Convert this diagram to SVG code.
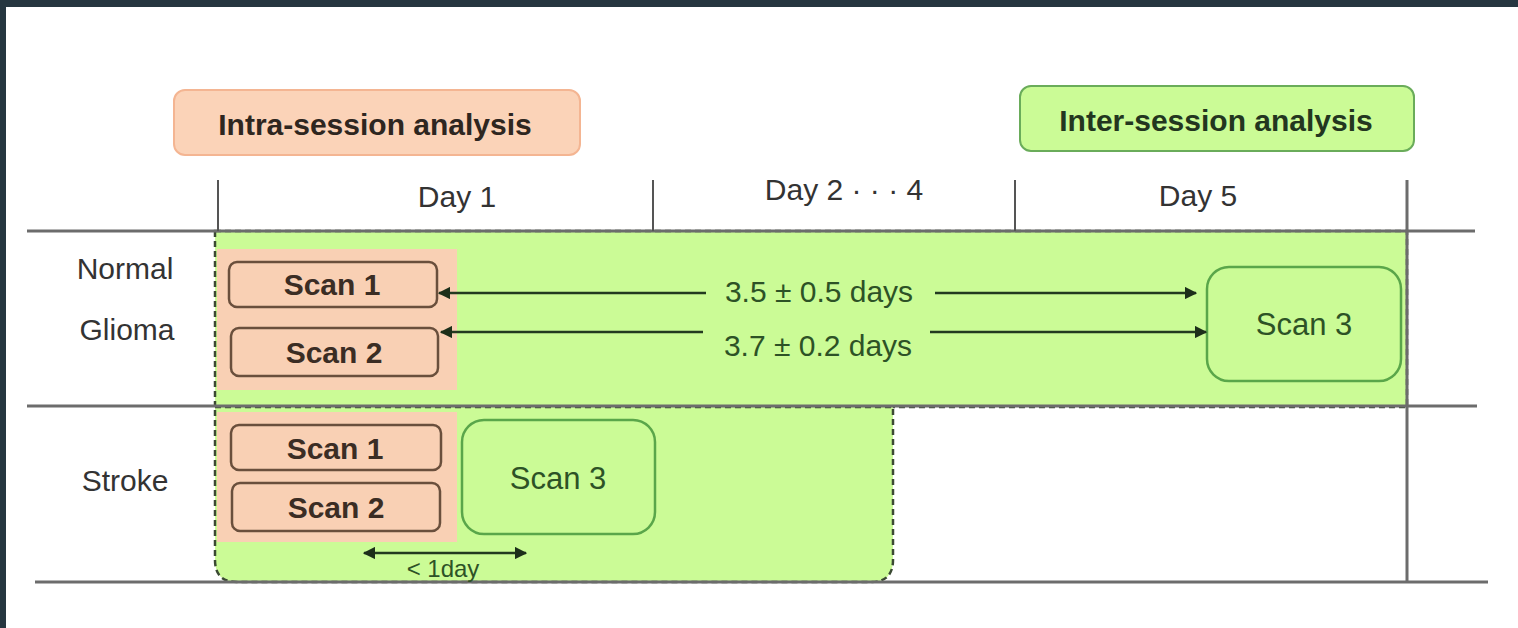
<svg xmlns="http://www.w3.org/2000/svg" width="1518" height="628" viewBox="0 0 1518 628">
<defs>
<style>
.t{font-family:"Liberation Sans",Arial,sans-serif;}
.grid{stroke:#6c6c6c;stroke-width:3;fill:none;}
.tick{stroke:#555;stroke-width:2;fill:none;}
.region{fill:#cbfb96;stroke:#3b4a33;stroke-width:2.5;stroke-dasharray:6 4;}
.peach{fill:#f9d0b4;}
.scanP{fill:#f9d0b4;stroke:#6a4f3c;stroke-width:2.5;}
.scanG{fill:#cbfb96;stroke:#5aa64a;stroke-width:2.5;}
.conn{stroke:#233a20;stroke-width:2.5;fill:none;}
.lbl{font-size:30px;fill:#333;}
.day{font-size:30px;fill:#333;text-anchor:middle;}
.ptxt{font-size:30px;font-weight:bold;fill:#3b2d24;text-anchor:middle;}
.gtxt{font-size:31px;fill:#2d5226;text-anchor:middle;}
.dtxt{font-size:30px;fill:#2d5226;text-anchor:middle;}
</style>
<marker id="ah" viewBox="0 0 10 10" refX="9" refY="5" markerWidth="5" markerHeight="5" orient="auto-start-reverse">
<path d="M0,0 L10,5 L0,10 z" fill="#1d2f1a"/>
</marker>
</defs>
<rect x="0" y="0" width="1518" height="628" fill="#ffffff"/>
<rect x="0" y="0" width="1518" height="7" fill="#263640"/>
<rect x="0" y="0" width="6" height="628" fill="#263640"/>

<g id="header-intra">
<rect x="174" y="90" width="406" height="65" rx="11" fill="#fbd3b8" stroke="#f4b592" stroke-width="2"/>
<text x="375" y="135" class="t" font-size="30" font-weight="bold" fill="#2e2620" text-anchor="middle">Intra-session analysis</text>
</g>
<g id="header-inter">
<rect x="1020" y="86" width="394" height="65" rx="11" fill="#cbfb96" stroke="#6aac5a" stroke-width="2"/>
<text x="1216" y="131" class="t" font-size="30" font-weight="bold" fill="#23361f" text-anchor="middle">Inter-session analysis</text>
</g>

<g id="regions">
<rect class="region" x="215" y="231" width="1192" height="176"/>
<path class="region" d="M215,407 H893 V560 Q893,582 871,582 H237 Q215,582 215,560 Z"/>
<rect class="peach" x="217" y="249" width="240" height="141"/>
<rect class="peach" x="217" y="412" width="240" height="130"/>
</g>

<g id="grid">
<line class="grid" x1="27" y1="231" x2="1475" y2="231"/>
<line class="grid" x1="27" y1="406" x2="1477" y2="406"/>
<line class="grid" x1="35" y1="582" x2="1488" y2="582"/>
<line class="tick" x1="218" y1="180" x2="218" y2="231"/>
<line class="tick" x1="653" y1="180" x2="653" y2="231"/>
<line class="tick" x1="1015" y1="180" x2="1015" y2="231"/>
<line class="grid" x1="1407" y1="180" x2="1407" y2="582"/>
</g>

<g id="day-labels" class="t">
<text x="457" y="207" class="day">Day 1</text>
<text x="844" y="200" class="day">Day 2 · · · 4</text>
<text x="1198" y="206" class="day">Day 5</text>
</g>

<g id="row-labels" class="t">
<text x="125" y="279" class="lbl" text-anchor="middle">Normal</text>
<text x="127" y="340" class="lbl" text-anchor="middle">Glioma</text>
<text x="125" y="491" class="lbl" text-anchor="middle">Stroke</text>
</g>

<g id="scan1-ng">
<rect class="scanP" x="229" y="262" width="208" height="45" rx="8"/>
<text x="332" y="295" class="t ptxt">Scan 1</text>
</g>
<g id="scan2-ng">
<rect class="scanP" x="231" y="328" width="207" height="48" rx="8"/>
<text x="334" y="363" class="t ptxt">Scan 2</text>
</g>
<g id="scan3-ng">
<rect class="scanG" x="1207" y="267" width="194" height="114" rx="22"/>
<text x="1304" y="335" class="t gtxt">Scan 3</text>
</g>
<g id="scan1-s">
<rect class="scanP" x="231" y="425" width="210" height="45" rx="8"/>
<text x="335" y="459" class="t ptxt">Scan 1</text>
</g>
<g id="scan2-s">
<rect class="scanP" x="232" y="483" width="208" height="48" rx="8"/>
<text x="336" y="518" class="t ptxt">Scan 2</text>
</g>
<g id="scan3-s">
<rect class="scanG" x="462" y="420" width="193" height="114" rx="22"/>
<text x="558" y="489" class="t gtxt">Scan 3</text>
</g>

<g id="connectors">
<line class="conn" x1="706" y1="293" x2="439" y2="293" marker-end="url(#ah)"/>
<line class="conn" x1="935" y1="293" x2="1196" y2="293" marker-end="url(#ah)"/>
<line class="conn" x1="703" y1="332" x2="441" y2="332" marker-end="url(#ah)"/>
<line class="conn" x1="930" y1="332" x2="1206" y2="332" marker-end="url(#ah)"/>
<line class="conn" x1="364" y1="553" x2="526" y2="553" marker-start="url(#ah)" marker-end="url(#ah)"/>
<text x="819" y="302" class="t dtxt">3.5 ± 0.5 days</text>
<text x="818" y="356" class="t dtxt">3.7 ± 0.2 days</text>
<text x="443" y="577" class="t" font-size="24" fill="#2d5226" text-anchor="middle">&lt; 1day</text>
</g>
</svg>
